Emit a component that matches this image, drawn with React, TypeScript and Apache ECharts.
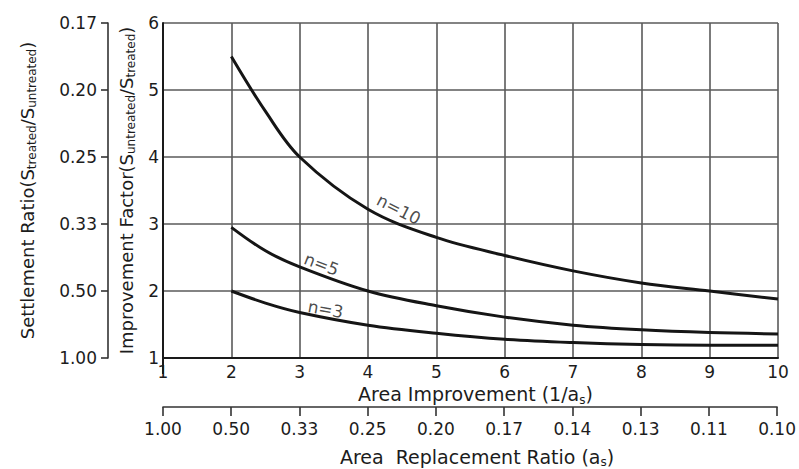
import React, { useEffect, useRef } from "react";
import * as echarts from "echarts";

// ---- data ----
const areaImprovement = [2, 2.5, 3, 4, 5, 6, 7, 8, 9, 10];
const factorN10 = [5.5, 4.68, 4.0, 3.22, 2.8, 2.53, 2.3, 2.12, 2.0, 1.88];
const factorN5 = [2.95, 2.6, 2.36, 2.0, 1.78, 1.61, 1.49, 1.42, 1.38, 1.36];
const factorN3 = [2.0, 1.82, 1.68, 1.49, 1.37, 1.28, 1.23, 1.2, 1.19, 1.19];

const settlementLabels = ["1.00", "0.50", "0.33", "0.25", "0.20", "0.17"];
const replacementLabels = ["1.00", "0.50", "0.33", "0.25", "0.20", "0.17", "0.14", "0.13", "0.11", "0.10"];

const curveNames = ["n=10", "n=5", "n=3"];
const curveLabelX = [4.45, 3.32, 3.38];
const curveLabelY = [3.22, 2.4, 1.73];
const curveLabelRotate = [-27, -21, -10];

const FONT = "DejaVu Sans";
const INK = "#1c1c1c";
const GRID = "#5a5a5a";

export default function App() {
  const ref = useRef<HTMLDivElement>(null);

  useEffect(() => {
    if (!ref.current) return;
    const chart = echarts.init(ref.current, undefined, { renderer: "svg" });

    const richTitle = (size: number, sub: number) => ({
      t: { fontSize: size, fontFamily: FONT, color: INK, lineHeight: size + 4 },
      s: { fontSize: sub, fontFamily: FONT, color: INK, lineHeight: sub - 1, verticalAlign: "bottom" },
    });

    const tickLabel = { fontFamily: FONT, fontSize: 17, color: INK };

    const mkLine = (name: string, values: number[]) => ({
      type: "line",
      name,
      xAxisIndex: 0,
      yAxisIndex: 0,
      data: areaImprovement.map((x, i) => [x, values[i]]),
      smooth: 0.35,
      showSymbol: false,
      symbol: "none",
      lineStyle: { color: "#151515", width: 3 },
      z: 5,
    });

    const option: any = {
      animation: false,
      backgroundColor: "#ffffff",
      grid: [
        { left: 163, top: 23, width: 615, height: 335, show: false },
        { left: 163, top: 406, width: 615, height: 1, show: false },
      ],
      xAxis: [
        {
          gridIndex: 0,
          type: "value",
          min: 1,
          max: 10,
          interval: 1,
          position: "bottom",
          axisLine: { show: true, onZero: false, lineStyle: { color: "#1a1a1a", width: 2 } },
          axisTick: { show: false },
          axisLabel: { ...tickLabel, margin: 5 },
          splitLine: { show: true, lineStyle: { color: GRID, width: 1.6 } },
          name: "{t|Area Improvement (1/a}{s|s}{t|)}",
          nameLocation: "middle",
          nameGap: 19,
          nameTextStyle: { rich: richTitle(19, 12), padding: [0, 0, 0, 10] },
        },
        {
          gridIndex: 1,
          type: "value",
          min: 1,
          max: 10,
          interval: 1,
          position: "bottom",
          axisLine: { show: true, onZero: false, lineStyle: { color: "#333", width: 1.6 } },
          axisTick: { show: true, length: 9, lineStyle: { color: "#333", width: 1.6 } },
          axisLabel: {
            ...tickLabel,
            margin: 13,
            formatter: (v: number) => replacementLabels[Math.round(v) - 1] ?? "",
          },
          splitLine: { show: false },
          name: "{t|Area  Replacement Ratio (a}{s|s}{t|)}",
          nameLocation: "middle",
          nameGap: 38,
          nameTextStyle: { rich: richTitle(19, 12), padding: [0, 0, 0, 14] },
        },
      ],
      yAxis: [
        {
          gridIndex: 0,
          type: "value",
          min: 1,
          max: 6,
          interval: 1,
          position: "left",
          axisLine: { show: true, onZero: false, lineStyle: { color: "#1a1a1a", width: 2 } },
          axisTick: { show: false },
          axisLabel: { ...tickLabel, margin: 4 },
          splitLine: { show: true, lineStyle: { color: GRID, width: 1.6 } },
          name: "{t|Improvement Factor(S}{s|untreated}{t|/S}{s|treated}{t|)}",
          nameLocation: "middle",
          nameGap: 17,
          nameRotate: 90,
          nameTextStyle: { rich: richTitle(18, 12) },
        },
        {
          gridIndex: 0,
          type: "value",
          min: 1,
          max: 6,
          interval: 1,
          position: "left",
          offset: 55,
          axisLine: { show: true, onZero: false, lineStyle: { color: "#333", width: 1.6 } },
          axisTick: { show: true, length: 7, lineStyle: { color: "#333", width: 1.6 } },
          axisLabel: {
            ...tickLabel,
            margin: 11,
            formatter: (v: number) => settlementLabels[Math.round(v) - 1] ?? "",
          },
          splitLine: { show: false },
          name: "{t|Settlement Ratio(S}{s|treated}{t|/S}{s|untreated}{t|)}",
          nameLocation: "middle",
          nameGap: 70,
          nameRotate: 90,
          nameTextStyle: { rich: richTitle(18, 12) },
        },
        { gridIndex: 1, type: "value", min: 0, max: 1, show: false },
      ],
      graphic: [
        {
          type: "line",
          shape: { x1: 163, y1: 358, x2: 163, y2: 374 },
          style: { stroke: "#1a1a1a", lineWidth: 2 },
        },
      ],
      series: [
        mkLine("n=10", factorN10),
        mkLine("n=5", factorN5),
        mkLine("n=3", factorN3),
        {
          type: "scatter",
          xAxisIndex: 0,
          yAxisIndex: 0,
          symbolSize: 0,
          silent: true,
          z: 6,
          data: curveNames.map((name, i) => ({
            value: [curveLabelX[i], curveLabelY[i]],
            label: {
              show: true,
              position: "inside",
              formatter: name,
              rotate: curveLabelRotate[i],
              fontFamily: FONT,
              fontSize: 17,
              color: INK,
            },
          })),
        },
      ],
    };

    chart.setOption(option);
    return () => chart.dispose();
  }, []);

  return (
    <div
      ref={ref}
      style={{ position: "fixed", left: 0, top: 0, width: 799, height: 469, background: "#fff" }}
    />
  );
}
